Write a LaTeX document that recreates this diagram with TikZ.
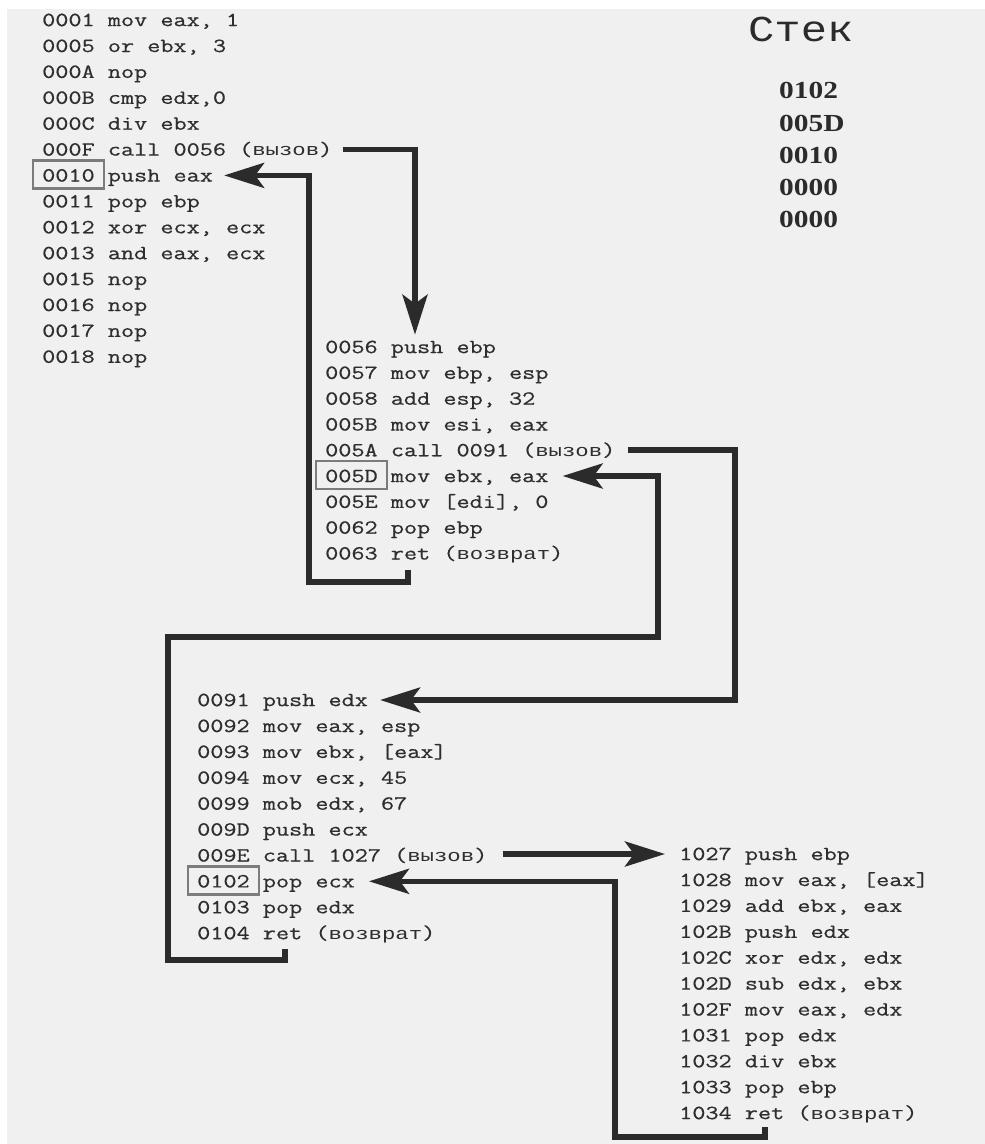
\documentclass[tikz,border=0pt]{standalone}
\usepackage{fontspec}
\newfontfamily\codefont[FakeStretch=1.275,FakeBold=0.6]{Latin Modern Mono}
\newfontfamily\cyrfont[FakeStretch=1.313]{Liberation Mono}
\newfontfamily\titlefont[FakeStretch=1.2]{Liberation Mono}
\newfontfamily\stackfont[FakeStretch=1.2]{Liberation Serif}
\newcommand\cyw[1]{{\cyrfont\fontsize{17}{24}\selectfont #1}}
\usetikzlibrary{arrows.meta,calc}
\definecolor{bg}{HTML}{F0F0F0}
\definecolor{ink}{HTML}{2B2B2B}
\definecolor{txt}{HTML}{2E2E2E}
\definecolor{hl}{HTML}{7C7C7C}
\begin{document}
\begin{tikzpicture}[x=1pt,y=-1pt,
 code/.style={anchor=west,inner sep=0pt,text height=12.2pt,text depth=0pt,text=txt,font=\codefont\fontsize{20}{24}\selectfont},
 conn/.style={draw=ink,line width=5.5pt,line join=miter},
 arr/.style={conn,-{Stealth[length=40pt,width=25pt,inset=9pt]}},
 hlbox/.style={draw=hl,line width=2.4pt,minimum width=71pt,minimum height=28pt,inner sep=0pt},
 stackv/.style={anchor=west,inner sep=0pt,text height=16.5pt,text depth=0pt,text=ink,font=\stackfont\bfseries\fontsize{24.5}{28}\selectfont},
 title/.style={anchor=west,inner sep=0pt,text height=24pt,text depth=0pt,text=ink,font=\titlefont\fontsize{36.5}{40}\selectfont}]
\useasboundingbox (0,0) rectangle (985,1144);
\fill[white] (0,0) rectangle (985,1144);
\fill[bg] (7,9) rectangle (985,1144);

% block 1
\foreach \nm/\txt [count=\i from 0] in {
 0001/{0001 mov eax, 1},
 0005/{0005 or ebx, 3},
 000A/{000A nop},
 000B/{000B cmp edx,0},
 000C/{000C div ebx},
 000F/{000F call 0056 (\cyw{вызов})},
 0010/{0010 push eax},
 0011/{0011 pop ebp},
 0012/{0012 xor ecx, ecx},
 0013/{0013 and eax, ecx},
 0015/{0015 nop},
 0016/{0016 nop},
 0017/{0017 nop},
 0018/{0018 nop}}
 \node[code] (l\nm) at (42,{20+25.9*\i}) {\txt};

% block 2
\foreach \nm/\txt [count=\i from 0] in {
 0056/{0056 push ebp},
 0057/{0057 mov ebp, esp},
 0058/{0058 add esp, 32},
 005B/{005B mov esi, eax},
 005A/{005A call 0091 (\cyw{вызов})},
 005D/{005D mov ebx, eax},
 005E/{005E mov [edi], 0},
 0062/{0062 pop ebp},
 0063/{0063 ret (\cyw{возврат})}}
 \node[code] (l\nm) at (325,{347+25.8*\i}) {\txt};

% block 3
\foreach \nm/\txt [count=\i from 0] in {
 0091/{0091 push edx},
 0092/{0092 mov eax, esp},
 0093/{0093 mov ebx, [eax]},
 0094/{0094 mov ecx, 45},
 0099/{0099 mob edx, 67},
 009D/{009D push ecx},
 009E/{009E call 1027 (\cyw{вызов})},
 0102/{0102 pop ecx},
 0103/{0103 pop edx},
 0104/{0104 ret (\cyw{возврат})}}
 \node[code] (l\nm) at (197,{700+25.9*\i}) {\txt};

% block 4
\foreach \nm/\txt [count=\i from 0] in {
 1027/{1027 push ebp},
 1028/{1028 mov eax, [eax]},
 1029/{1029 add ebx, eax},
 102B/{102B push edx},
 102C/{102C xor edx, edx},
 102D/{102D sub edx, ebx},
 102F/{102F mov eax, edx},
 1031/{1031 pop edx},
 1032/{1032 div ebx},
 1033/{1033 pop ebp},
 1034/{1034 ret (\cyw{возврат})}}
 \node[code] (l\nm) at (679,{854+25.9*\i}) {\txt};

% highlight boxes
\node[hlbox] (h0010) at ($(l0010.west)+(26.5,-1)$) {};
\node[hlbox] (h005D) at ($(l005D.west)+(26.5,-1)$) {};
\node[hlbox] (h0102) at ($(l0102.west)+(26.5,-1)$) {};

% stack
\node[title] (stek) at (748,29) {Стек};
\foreach \v [count=\i from 0] in {0102,005D,0010,0000,0000}
 \node[stackv] (s\i) at (779,{90.5+32.3*\i}) {\v};

% bends
\coordinate (xA) at (415,0);
\coordinate (rA1) at (408,582);
\coordinate (rA2) at (309,582);
\coordinate (cB) at (735,700);
\coordinate (rB1) at (285,960);
\coordinate (rB2) at (168,960);
\coordinate (rB3) at (168,637);
\coordinate (rB4) at (658,637);
\coordinate (rC1) at (765,1137);
\coordinate (rC2) at (615,1137);

% calls
\draw[arr] ($(l000F.east)+(10,0)$) -| ($(xA |- l0056.north)+(0,-6)$);
\draw[arr] ($(l005A.east)+(12,0)$) -| (cB) -- ($(l0091.east)+(12,0)$);
\draw[arr] ($(l009E.east |- l1027.west)+(15,0)$) -- ($(l1027.west)+(-14,0)$);

% returns
\draw[arr] ($(l0063.south -| rA1)+(0,10)$) -- (rA1) -- (rA2) |- ($(l0010.east)+(11,0)$);
\draw[arr] ($(l0104.south -| rB1)+(0,10)$) -- (rB1) -- (rB2) -- (rB3) -- (rB4) |- ($(l005D.east)+(14,0)$);
\draw[arr] ($(l1034.south -| rC1)+(0,8)$) -- (rC1) -- (rC2) |- ($(l0102.east)+(14,0)$);
\end{tikzpicture}
\end{document}
